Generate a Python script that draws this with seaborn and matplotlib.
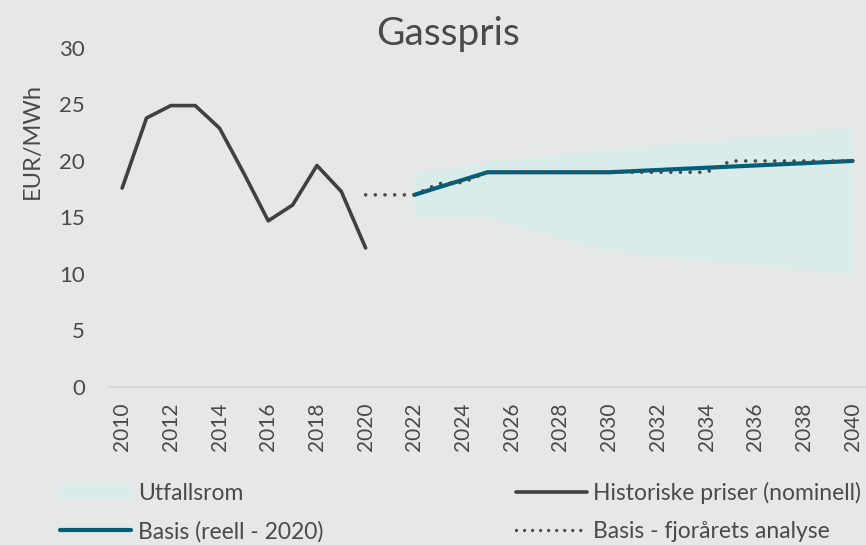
import numpy as np
import pandas as pd
import matplotlib
matplotlib.use("Agg")
import matplotlib.pyplot as plt
import seaborn as sns
from matplotlib.lines import Line2D
from matplotlib.patches import Patch

# ---- data ----
years_hist = list(range(2010, 2021))
hist_prices = [17.6, 23.8, 24.9, 24.9, 22.9, 18.9, 14.7, 16.1, 19.6, 17.3, 12.3]

years_proj = list(range(2022, 2041))
basis_real = [17.0, 17.67, 18.33, 19.0, 19.0, 19.0, 19.0, 19.0, 19.0, 19.1,
              19.2, 19.3, 19.4, 19.5, 19.6, 19.7, 19.8, 19.9, 20.0]
band_low = [15.0, 15.0, 15.0, 15.0, 14.4, 13.8, 13.2, 12.6, 12.0, 11.8,
            11.6, 11.4, 11.2, 11.0, 10.8, 10.6, 10.4, 10.2, 10.0]
band_high = [19.0, 19.33, 19.67, 20.0, 20.2, 20.4, 20.6, 20.8, 21.0, 21.2,
             21.4, 21.6, 21.8, 22.0, 22.2, 22.4, 22.6, 22.8, 23.0]

years_prev = list(range(2020, 2041))
prev_basis = [17.0, 17.0, 17.0, 18.0, 18.1, 19.0, 19.0, 19.0, 19.0, 19.0, 19.0,
              19.0, 19.0, 19.0, 19.0, 20.0, 20.0, 20.0, 20.0, 20.0, 20.0]

x_ticks = list(range(2010, 2041, 2))
y_ticks = [0, 5, 10, 15, 20, 25, 30]

labels = ["Utfallsrom", "Historiske priser (nominell)", "Basis (reell - 2020)",
          "Basis - fjorårets analyse"]

# ---- style ----
BG = "#E6E8E7"
TXT = "#4A4A4A"
BAND = "#D9ECEA"
TEAL = "#00607A"
DARK = "#404040"
DOT = "#4A4A4A"

sns.set_theme(style="white")
plt.rcParams["font.family"] = ["Lato", "DejaVu Sans"]
plt.rcParams["text.color"] = TXT

fig = plt.figure(figsize=(8.66, 5.45), dpi=100, facecolor=BG)
ax = fig.add_axes([0.127, 0.29, 0.873, 0.622])
ax.set_facecolor(BG)

df_hist = pd.DataFrame({"year": years_hist, "value": hist_prices})
df_proj = pd.DataFrame({"year": years_proj, "basis": basis_real,
                        "low": band_low, "high": band_high})
df_prev = pd.DataFrame({"year": years_prev, "value": prev_basis})

ax.fill_between(df_proj["year"], df_proj["low"], df_proj["high"],
                color=BAND, linewidth=0, zorder=1)
sns.lineplot(data=df_hist, x="year", y="value", ax=ax, color=DARK,
             linewidth=2.6, zorder=3)
sns.lineplot(data=df_proj, x="year", y="basis", ax=ax, color=TEAL,
             linewidth=3.0, zorder=3)
sns.lineplot(data=df_prev, x="year", y="value", ax=ax, color=DOT,
             linewidth=2.6, zorder=4, linestyle=(0, (0.01, 2.67)),
             dash_capstyle="round")

ax.set_xlim(2009.5, 2040.55)
ax.set_ylim(0, 30)
ax.set_xticks(x_ticks)
ax.set_xticklabels([str(t) for t in x_ticks], rotation=90, fontsize=15, color=TXT)
ax.set_yticks(y_ticks)
ax.set_yticklabels([str(t) for t in y_ticks], fontsize=16, color=TXT)
ax.tick_params(axis="x", length=0, pad=11)
ax.tick_params(axis="y", length=0, pad=18)
ax.set_xlabel("")
ax.set_ylabel("")
fig.text(0.037, 0.741, "EUR/MWh", rotation=90, ha="center", va="center",
         fontsize=17, color=TXT)
for s in ["top", "right", "left"]:
    ax.spines[s].set_visible(False)
ax.spines["bottom"].set_color("#D3D3D3")
ax.spines["bottom"].set_linewidth(1.2)

fig.text(0.517, 0.917, "Gasspris", ha="center", va="baseline", fontsize=28, color=TXT)

handles = [
    Patch(facecolor=BAND, edgecolor="none"),
    Line2D([], [], color=TEAL, linewidth=3.0),
    Line2D([], [], color=DARK, linewidth=2.6),
    Line2D([], [], color=DOT, linewidth=2.4, linestyle=(0, (0.01, 2.4)),
           dash_capstyle="round"),
]
leg_labels = [labels[0], labels[2], labels[1], labels[3]]
leg = fig.legend(handles, leg_labels, loc="center left",
                 bbox_to_anchor=(0.069, 0.0606), borderpad=0, borderaxespad=0,
                 ncol=2, frameon=False, fontsize=16.5, handlelength=3.1,
                 handletextpad=0.3, columnspacing=8.4, labelspacing=0.75)
for t in leg.get_texts():
    t.set_color(TXT)

fig.savefig("out.png", dpi=100, facecolor=BG)
